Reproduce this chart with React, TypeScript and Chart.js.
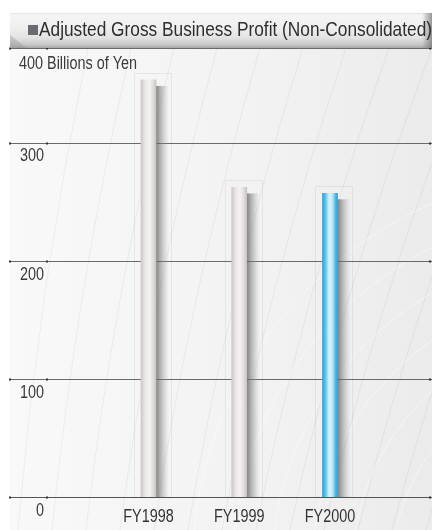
import React, { useEffect, useRef } from "react";
import { Chart, registerables } from "chart.js";
Chart.register(...registerables);

const categories = ["FY1998", "FY1999", "FY2000"];
const profitValues = [353, 262, 257];
const yTickValues = [0, 100, 200, 300, 380];
const yTickLabels = ["0", "100", "200", "300", "400 Billions of Yen"];
const chartTitle = "Adjusted Gross Business Profit (Non-Consolidated)";
const highlightIndex = 2;

const FONT = '"Liberation Sans", Arial, sans-serif';
const SQUEEZE = 0.8;

const grayStops: [number, string][] = [
  [0, "#cdc6c5"],
  [0.25, "#e9e5e4"],
  [0.55, "#f5f3f2"],
  [0.85, "#ddd8d7"],
  [1, "#c8c2c1"],
];
const blueStops: [number, string][] = [
  [0, "#2aa3dc"],
  [0.2, "#5ec4ec"],
  [0.45, "#dcf3fd"],
  [0.65, "#c2eafb"],
  [0.85, "#54bde9"],
  [1, "#2b9fd6"],
];

function squeezedText(ctx: CanvasRenderingContext2D, text: string, x: number, y: number, sx: number, align: "left" | "center" | "right") {
  const w = ctx.measureText(text).width * sx;
  let left = x;
  if (align === "center") left = x - w / 2;
  if (align === "right") left = x - w;
  ctx.save();
  ctx.textAlign = "left";
  ctx.translate(left, y);
  ctx.scale(sx, 1);
  ctx.fillText(text, 0, 0);
  ctx.restore();
}

const decorPlugin = {
  id: "decor",
  beforeDraw(chart: any) {
    const ctx = chart.ctx as CanvasRenderingContext2D;
    const area = chart.chartArea;
    const W = chart.width;
    const H = chart.height;
    ctx.save();
    ctx.fillStyle = "#ffffff";
    ctx.fillRect(0, 0, W, H);
    const bg = ctx.createLinearGradient(area.left, 0, W, 0);
    bg.addColorStop(0, "#f9f9f9");
    bg.addColorStop(0.6, "#f2f2f2");
    bg.addColorStop(1, "#ebebec");
    ctx.fillStyle = bg;
    ctx.fillRect(area.left, area.top, W - area.left, H - area.top);
    ctx.lineWidth = 1;
    ctx.strokeStyle = "rgba(0,0,0,0.05)";
    for (let i = 0; i < 16; i++) {
      const x0 = area.left + 8 + i * 34;
      ctx.beginPath();
      ctx.moveTo(x0, H);
      ctx.quadraticCurveTo(x0 + 20 + i * 4, (H + area.top) / 2, x0 + 70 + i * 9, area.top);
      ctx.stroke();
    }
    ctx.strokeStyle = "rgba(255,255,255,0.45)";
    for (let i = 0; i < 6; i++) {
      ctx.beginPath();
      ctx.arc(W + 160, H + 40, 200 + i * 40, Math.PI, Math.PI * 1.5);
      ctx.stroke();
    }
    ctx.restore();
  },
  beforeDatasetsDraw(chart: any) {
    const ctx = chart.ctx as CanvasRenderingContext2D;
    const area = chart.chartArea;
    const y = chart.scales.y;
    const W = chart.width;
    ctx.save();
    yTickValues.forEach((v, i) => {
      const py = Math.round(y.getPixelForValue(v)) + 0.5;
      ctx.strokeStyle = i === 0 ? "#555555" : "#6a6a6a";
      ctx.lineWidth = 1;
      ctx.beginPath();
      ctx.moveTo(area.left, py);
      ctx.lineTo(W, py);
      ctx.stroke();
      ctx.fillStyle = "#333";
      [area.left, area.left + 37, W - 2].forEach((dx) => {
        ctx.fillRect(dx - 1, py - 1, 2, 2);
      });
    });
    const meta = chart.getDatasetMeta(0);
    meta.data.forEach((el: any) => {
      const half = el.width / 2;
      ctx.strokeStyle = "rgba(0,0,0,0.06)";
      ctx.strokeRect(Math.round(el.x - half - 7) + 0.5, Math.round(el.y - 7) + 0.5, el.width + 22, el.base - el.y + 7);
      const sx = el.x + half;
      const sg = ctx.createLinearGradient(sx, 0, sx + 13, 0);
      sg.addColorStop(0, "rgba(90,90,90,0.75)");
      sg.addColorStop(0.5, "rgba(130,130,130,0.4)");
      sg.addColorStop(1, "rgba(160,160,160,0)");
      ctx.fillStyle = sg;
      const sTop = el.y + 6;
      ctx.fillRect(sx, sTop, 13, el.base - sTop);
    });
    ctx.restore();
  },
  afterDatasetsDraw(chart: any) {
    const ctx = chart.ctx as CanvasRenderingContext2D;
    const area = chart.chartArea;
    const x = chart.scales.x;
    const y = chart.scales.y;
    const W = chart.width;
    ctx.save();
    ctx.fillStyle = "#3a3a3a";
    ctx.font = `18px ${FONT}`;
    ctx.textBaseline = "middle";
    yTickValues.forEach((v, i) => {
      const py = y.getPixelForValue(v);
      const label = yTickLabels[i];
      if (i === yTickValues.length - 1) {
        squeezedText(ctx, label, 19, py + 16, SQUEEZE, "left");
      } else {
        squeezedText(ctx, label, 44, py + 14, SQUEEZE, "right");
      }
    });
    ctx.fillStyle = "#333";
    categories.forEach((c, i) => {
      squeezedText(ctx, c, x.getPixelForValue(i + 1), area.bottom + 20, SQUEEZE, "center");
    });
    // title band
    const top = 13;
    const bot = area.top;
    const band = ctx.createLinearGradient(0, top, 0, bot);
    band.addColorStop(0, "#e2e2e2");
    band.addColorStop(0.05, "#f5f5f5");
    band.addColorStop(0.45, "#eeeeee");
    band.addColorStop(0.72, "#e2e2e2");
    band.addColorStop(0.9, "#c8c8c8");
    band.addColorStop(1, "#a8a8a8");
    ctx.fillStyle = band;
    ctx.fillRect(area.left, top, W - area.left, bot - top);
    ctx.fillStyle = "rgba(140,140,140,0.35)";
    ctx.beginPath();
    ctx.moveTo(area.left, top + 22);
    ctx.lineTo(area.left + 16, bot);
    ctx.lineTo(area.left, bot);
    ctx.closePath();
    ctx.fill();
    const redge = ctx.createLinearGradient(W - 10, 0, W, 0);
    redge.addColorStop(0, "rgba(110,110,110,0)");
    redge.addColorStop(1, "rgba(110,110,110,0.7)");
    ctx.fillStyle = redge;
    ctx.fillRect(W - 10, top, 10, bot - top);
    ctx.fillStyle = "#6a6a70";
    ctx.fillRect(28, 25, 10, 10);
    ctx.fillStyle = "#2e2e2e";
    ctx.font = `21px ${FONT}`;
    ctx.textBaseline = "alphabetic";
    const tw = ctx.measureText(chartTitle).width;
    squeezedText(ctx, chartTitle, 39, 36, 393 / tw, "left");
    ctx.restore();
  },
};

export default function App() {
  const ref = useRef<HTMLCanvasElement | null>(null);
  useEffect(() => {
    document.body.style.margin = "0";
    const canvas = ref.current!;
    const chart = new Chart(canvas, {
      type: "bar",
      data: {
        datasets: [
          {
            data: profitValues.map((v, i) => ({ x: i + 1, y: v })),
            barThickness: 15,
            borderWidth: 0,
            backgroundColor: (c: any) => {
              const ch = c.chart;
              if (!ch.chartArea || c.type !== "data") return "#ddd";
              const cx = ch.scales.x.getPixelForValue(c.raw.x);
              const g = ch.ctx.createLinearGradient(cx - 7.5, 0, cx + 7.5, 0);
              const stops = c.dataIndex === highlightIndex ? blueStops : grayStops;
              stops.forEach(([o, col]) => g.addColorStop(o, col));
              return g;
            },
          },
        ],
      },
      options: {
        animation: false,
        responsive: false,
        layout: { padding: { left: 10, right: 0, top: 48, bottom: 33 } },
        plugins: { legend: { display: false }, tooltip: { enabled: false }, title: { display: false } },
        scales: {
          x: { type: "linear", min: -0.526, max: 4.124, offset: false, display: false },
          y: { min: 0, max: 380, display: false },
        },
      },
      plugins: [decorPlugin],
    });
    return () => chart.destroy();
  }, []);
  return <canvas ref={ref} width={432} height={530} style={{ display: "block", width: 432, height: 530 }} />;
}
